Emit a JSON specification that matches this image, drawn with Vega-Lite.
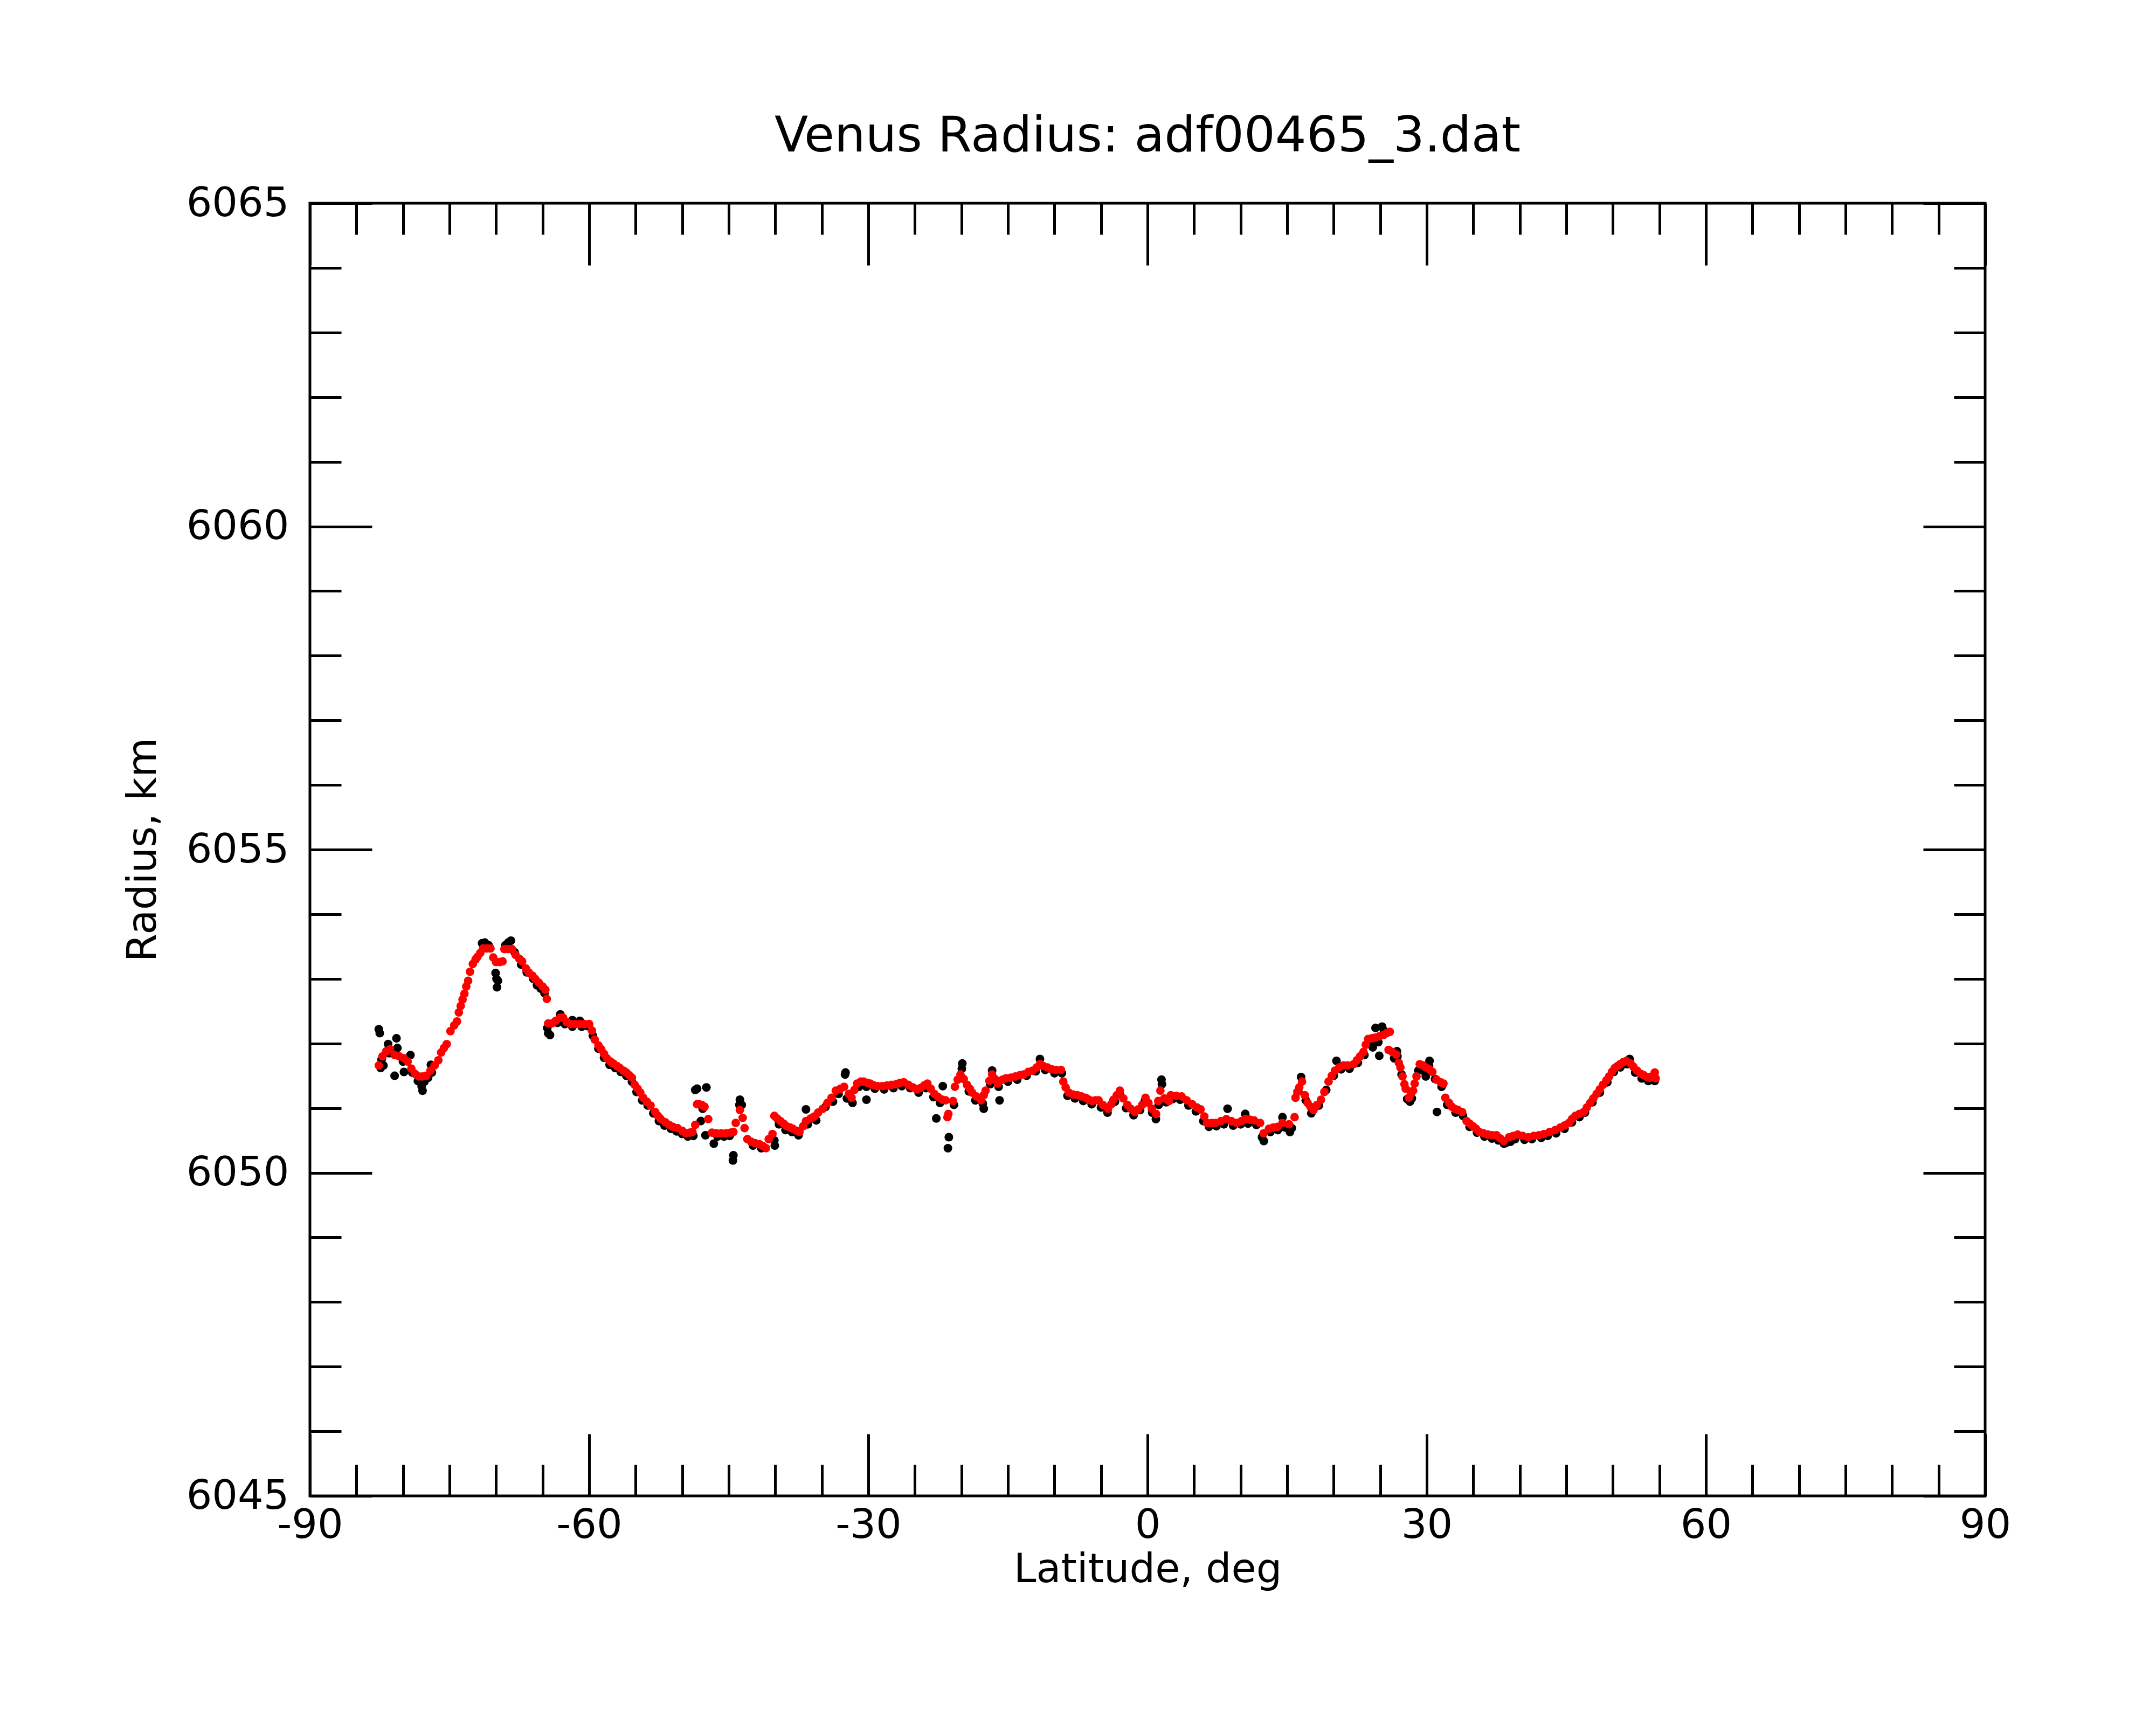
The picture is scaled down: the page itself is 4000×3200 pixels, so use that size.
{
  "$schema": "https://vega.github.io/schema/vega-lite/v6.json",
  "width": 3108,
  "height": 2398,
  "autosize": "none",
  "padding": {"left": 575, "top": 377, "right": 317, "bottom": 425},
  "background": "white",
  "title": {
    "text": "Venus Radius: adf00465_3.dat",
    "font": "DejaVu Sans",
    "fontSize": 91,
    "fontWeight": "normal",
    "color": "black",
    "anchor": "middle",
    "frame": "group",
    "baseline": "alphabetic",
    "offset": 96,
    "dy": 128
  },
  "config": {
    "font": "DejaVu Sans",
    "view": {"stroke": "black", "strokeWidth": 5},
    "axis": {
      "grid": false,
      "domain": false,
      "tickColor": "black",
      "tickWidth": 5,
      "labelColor": "black",
      "labelFont": "DejaVu Sans",
      "labelFontSize": 75,
      "labelLimit": 600,
      "titleFont": "DejaVu Sans",
      "titleFontSize": 75,
      "titleFontWeight": "normal",
      "titleColor": "black",
      "labelFlush": false,
      "labelOverlap": false
    }
  },
  "datasets": {
    "red": [
      {"lat": -82.6, "r": 6051.66}, {"lat": -82.2, "r": 6051.80}, {"lat": -81.8, "r": 6051.88}, {"lat": -81.4, "r": 6051.91},
      {"lat": -80.9, "r": 6051.82}, {"lat": -80.4, "r": 6051.80}, {"lat": -79.9, "r": 6051.77}, {"lat": -79.5, "r": 6051.72},
      {"lat": -79.1, "r": 6051.61}, {"lat": -78.7, "r": 6051.53}, {"lat": -78.3, "r": 6051.49}, {"lat": -77.9, "r": 6051.49},
      {"lat": -77.5, "r": 6051.50}, {"lat": -77.05, "r": 6051.58}, {"lat": -76.6, "r": 6051.66}, {"lat": -76.2, "r": 6051.74},
      {"lat": -75.9, "r": 6051.86}, {"lat": -75.6, "r": 6051.93}, {"lat": -75.3, "r": 6051.99}, {"lat": -74.9, "r": 6052.19},
      {"lat": -74.5, "r": 6052.28}, {"lat": -74.2, "r": 6052.34}, {"lat": -74.0, "r": 6052.48}, {"lat": -73.8, "r": 6052.58},
      {"lat": -73.6, "r": 6052.68}, {"lat": -73.4, "r": 6052.77}, {"lat": -73.2, "r": 6052.88}, {"lat": -73.0, "r": 6052.97},
      {"lat": -72.8, "r": 6053.11}, {"lat": -72.5, "r": 6053.23}, {"lat": -72.2, "r": 6053.30}, {"lat": -72.0, "r": 6053.34},
      {"lat": -71.7, "r": 6053.40}, {"lat": -71.4, "r": 6053.47}, {"lat": -71.0, "r": 6053.47}, {"lat": -70.6, "r": 6053.47},
      {"lat": -70.3, "r": 6053.33}, {"lat": -70.0, "r": 6053.26}, {"lat": -69.6, "r": 6053.26}, {"lat": -69.3, "r": 6053.27},
      {"lat": -69.1, "r": 6053.46}, {"lat": -68.7, "r": 6053.46}, {"lat": -68.3, "r": 6053.46}, {"lat": -67.9, "r": 6053.37},
      {"lat": -67.5, "r": 6053.31}, {"lat": -67.2, "r": 6053.27}, {"lat": -66.8, "r": 6053.16}, {"lat": -66.5, "r": 6053.10},
      {"lat": -66.1, "r": 6053.05}, {"lat": -65.8, "r": 6053.00}, {"lat": -65.4, "r": 6052.94}, {"lat": -65.0, "r": 6052.88},
      {"lat": -64.7, "r": 6052.83}, {"lat": -64.55, "r": 6052.69},
      {"lat": -64.4, "r": 6052.31}, {"lat": -64.0, "r": 6052.31}, {"lat": -63.6, "r": 6052.35}, {"lat": -63.1, "r": 6052.40},
      {"lat": -62.8, "r": 6052.40}, {"lat": -62.4, "r": 6052.33}, {"lat": -62.0, "r": 6052.30}, {"lat": -61.5, "r": 6052.30},
      {"lat": -61.0, "r": 6052.30}, {"lat": -60.5, "r": 6052.30}, {"lat": -60.0, "r": 6052.30}, {"lat": -59.7, "r": 6052.20},
      {"lat": -59.4, "r": 6052.06}, {"lat": -59.0, "r": 6051.97}, {"lat": -58.7, "r": 6051.91}, {"lat": -58.4, "r": 6051.84},
      {"lat": -58.1, "r": 6051.77}, {"lat": -57.7, "r": 6051.72}, {"lat": -57.4, "r": 6051.69}, {"lat": -57.0, "r": 6051.65},
      {"lat": -56.7, "r": 6051.62}, {"lat": -56.3, "r": 6051.58}, {"lat": -56.0, "r": 6051.55}, {"lat": -55.7, "r": 6051.51},
      {"lat": -55.4, "r": 6051.47}, {"lat": -55.1, "r": 6051.36}, {"lat": -54.8, "r": 6051.30}, {"lat": -54.5, "r": 6051.24},
      {"lat": -54.2, "r": 6051.16}, {"lat": -53.8, "r": 6051.10}, {"lat": -53.4, "r": 6051.04}, {"lat": -52.9, "r": 6050.94},
      {"lat": -52.6, "r": 6050.88}, {"lat": -52.3, "r": 6050.83}, {"lat": -51.8, "r": 6050.78}, {"lat": -51.4, "r": 6050.74},
      {"lat": -51.0, "r": 6050.71}, {"lat": -50.5, "r": 6050.69}, {"lat": -50.0, "r": 6050.65}, {"lat": -49.6, "r": 6050.61},
      {"lat": -49.2, "r": 6050.62}, {"lat": -48.9, "r": 6050.63}, {"lat": -48.6, "r": 6050.74}, {"lat": -48.4, "r": 6051.06},
      {"lat": -48.2, "r": 6051.06}, {"lat": -47.9, "r": 6051.05}, {"lat": -47.6, "r": 6051.02}, {"lat": -47.2, "r": 6050.83},
      {"lat": -46.8, "r": 6050.62}, {"lat": -46.3, "r": 6050.61}, {"lat": -45.8, "r": 6050.61}, {"lat": -45.3, "r": 6050.61},
      {"lat": -44.8, "r": 6050.62}, {"lat": -44.5, "r": 6050.63}, {"lat": -44.25, "r": 6050.77}, {"lat": -43.8, "r": 6050.97},
      {"lat": -43.5, "r": 6050.85}, {"lat": -43.3, "r": 6050.69}, {"lat": -43.0, "r": 6050.52}, {"lat": -42.6, "r": 6050.48},
      {"lat": -42.2, "r": 6050.46}, {"lat": -41.7, "r": 6050.44}, {"lat": -41.3, "r": 6050.41}, {"lat": -41.0, "r": 6050.38},
      {"lat": -40.7, "r": 6050.52}, {"lat": -40.3, "r": 6050.60}, {"lat": -40.1, "r": 6050.88}, {"lat": -39.8, "r": 6050.84},
      {"lat": -39.45, "r": 6050.80}, {"lat": -39.1, "r": 6050.76}, {"lat": -38.8, "r": 6050.72}, {"lat": -38.4, "r": 6050.70},
      {"lat": -38.1, "r": 6050.68}, {"lat": -37.7, "r": 6050.65}, {"lat": -37.4, "r": 6050.63}, {"lat": -37.0, "r": 6050.72},
      {"lat": -36.7, "r": 6050.80}, {"lat": -36.2, "r": 6050.84}, {"lat": -35.8, "r": 6050.87}, {"lat": -35.4, "r": 6050.93},
      {"lat": -34.9, "r": 6050.99}, {"lat": -34.4, "r": 6051.08}, {"lat": -33.95, "r": 6051.16}, {"lat": -33.5, "r": 6051.27},
      {"lat": -33.0, "r": 6051.30}, {"lat": -32.6, "r": 6051.33}, {"lat": -32.1, "r": 6051.22}, {"lat": -31.8, "r": 6051.16},
      {"lat": -31.5, "r": 6051.28}, {"lat": -31.2, "r": 6051.38}, {"lat": -30.8, "r": 6051.41}, {"lat": -30.5, "r": 6051.41},
      {"lat": -30.1, "r": 6051.39}, {"lat": -29.8, "r": 6051.38}, {"lat": -29.4, "r": 6051.35}, {"lat": -29.0, "r": 6051.34},
      {"lat": -28.5, "r": 6051.34}, {"lat": -28.0, "r": 6051.35}, {"lat": -27.5, "r": 6051.36}, {"lat": -27.0, "r": 6051.37},
      {"lat": -26.6, "r": 6051.39}, {"lat": -26.2, "r": 6051.40}, {"lat": -25.7, "r": 6051.36}, {"lat": -25.2, "r": 6051.32},
      {"lat": -24.8, "r": 6051.29}, {"lat": -24.4, "r": 6051.31}, {"lat": -24.0, "r": 6051.35}, {"lat": -23.65, "r": 6051.38},
      {"lat": -23.3, "r": 6051.30}, {"lat": -22.9, "r": 6051.22}, {"lat": -22.5, "r": 6051.17}, {"lat": -22.05, "r": 6051.13},
      {"lat": -21.7, "r": 6051.12}, {"lat": -21.5, "r": 6050.86}, {"lat": -21.4, "r": 6050.91}, {"lat": -20.9, "r": 6051.11},
      {"lat": -20.7, "r": 6051.33}, {"lat": -20.4, "r": 6051.44}, {"lat": -20.1, "r": 6051.52}, {"lat": -19.75, "r": 6051.45},
      {"lat": -19.4, "r": 6051.36}, {"lat": -19.1, "r": 6051.30}, {"lat": -18.85, "r": 6051.24}, {"lat": -18.4, "r": 6051.18},
      {"lat": -17.9, "r": 6051.12}, {"lat": -17.6, "r": 6051.20}, {"lat": -17.4, "r": 6051.27}, {"lat": -17.0, "r": 6051.42},
      {"lat": -16.7, "r": 6051.52}, {"lat": -16.4, "r": 6051.45}, {"lat": -16.1, "r": 6051.38}, {"lat": -15.6, "r": 6051.44},
      {"lat": -15.2, "r": 6051.46}, {"lat": -14.7, "r": 6051.47}, {"lat": -14.2, "r": 6051.49}, {"lat": -13.7, "r": 6051.51},
      {"lat": -13.3, "r": 6051.52}, {"lat": -12.8, "r": 6051.56}, {"lat": -12.35, "r": 6051.58}, {"lat": -11.9, "r": 6051.63},
      {"lat": -11.56, "r": 6051.68}, {"lat": -11.2, "r": 6051.65}, {"lat": -10.76, "r": 6051.63}, {"lat": -10.3, "r": 6051.60},
      {"lat": -9.85, "r": 6051.59}, {"lat": -9.3, "r": 6051.59}, {"lat": -9.05, "r": 6051.41}, {"lat": -8.8, "r": 6051.32},
      {"lat": -8.47, "r": 6051.24}, {"lat": -8.0, "r": 6051.21}, {"lat": -7.55, "r": 6051.20}, {"lat": -7.1, "r": 6051.18},
      {"lat": -6.64, "r": 6051.16}, {"lat": -6.3, "r": 6051.13}, {"lat": -5.95, "r": 6051.11}, {"lat": -5.6, "r": 6051.12},
      {"lat": -5.26, "r": 6051.12}, {"lat": -4.8, "r": 6051.05}, {"lat": -4.24, "r": 6050.99}, {"lat": -3.9, "r": 6051.06},
      {"lat": -3.66, "r": 6051.13}, {"lat": -3.3, "r": 6051.20}, {"lat": -2.97, "r": 6051.27}, {"lat": -2.6, "r": 6051.15},
      {"lat": -2.17, "r": 6051.05}, {"lat": -1.8, "r": 6050.99}, {"lat": -1.37, "r": 6050.94}, {"lat": -1.0, "r": 6050.98},
      {"lat": -0.57, "r": 6051.05}, {"lat": -0.22, "r": 6051.16}, {"lat": 0.1, "r": 6051.08}, {"lat": 0.46, "r": 6050.99},
      {"lat": 0.92, "r": 6050.91}, {"lat": 1.15, "r": 6051.11}, {"lat": 1.38, "r": 6051.27}, {"lat": 1.8, "r": 6051.15},
      {"lat": 2.3, "r": 6051.11}, {"lat": 2.5, "r": 6051.20}, {"lat": 3.1, "r": 6051.19}, {"lat": 3.66, "r": 6051.18},
      {"lat": 4.2, "r": 6051.12}, {"lat": 4.8, "r": 6051.06}, {"lat": 5.3, "r": 6051.01}, {"lat": 5.7, "r": 6050.98},
      {"lat": 6.1, "r": 6050.87}, {"lat": 6.4, "r": 6050.77}, {"lat": 6.9, "r": 6050.77}, {"lat": 7.3, "r": 6050.77},
      {"lat": 7.9, "r": 6050.80}, {"lat": 8.47, "r": 6050.83}, {"lat": 9.0, "r": 6050.80}, {"lat": 9.6, "r": 6050.77},
      {"lat": 10.1, "r": 6050.80}, {"lat": 10.52, "r": 6050.83}, {"lat": 11.0, "r": 6050.82}, {"lat": 11.44, "r": 6050.81},
      {"lat": 12.1, "r": 6050.77}, {"lat": 12.47, "r": 6050.61}, {"lat": 13.04, "r": 6050.68}, {"lat": 13.5, "r": 6050.70},
      {"lat": 13.96, "r": 6050.71}, {"lat": 14.5, "r": 6050.77}, {"lat": 15.2, "r": 6050.75}, {"lat": 15.8, "r": 6050.86},
      {"lat": 15.9, "r": 6051.16}, {"lat": 16.1, "r": 6051.25}, {"lat": 16.3, "r": 6051.32}, {"lat": 16.6, "r": 6051.41},
      {"lat": 16.9, "r": 6051.20}, {"lat": 17.2, "r": 6051.08}, {"lat": 17.5, "r": 6051.02}, {"lat": 17.84, "r": 6050.97},
      {"lat": 18.2, "r": 6051.05}, {"lat": 18.64, "r": 6051.13}, {"lat": 19.0, "r": 6051.25}, {"lat": 19.45, "r": 6051.41},
      {"lat": 19.8, "r": 6051.50}, {"lat": 20.14, "r": 6051.58}, {"lat": 20.6, "r": 6051.63}, {"lat": 21.05, "r": 6051.66},
      {"lat": 21.5, "r": 6051.66}, {"lat": 22.15, "r": 6051.68}, {"lat": 22.5, "r": 6051.74}, {"lat": 22.84, "r": 6051.80},
      {"lat": 23.2, "r": 6051.87}, {"lat": 23.45, "r": 6051.98}, {"lat": 23.7, "r": 6052.07}, {"lat": 24.1, "r": 6052.08},
      {"lat": 24.44, "r": 6052.09}, {"lat": 24.9, "r": 6052.11}, {"lat": 25.35, "r": 6052.13}, {"lat": 25.7, "r": 6052.16},
      {"lat": 26.04, "r": 6052.18}, {"lat": 25.9, "r": 6051.90}, {"lat": 26.3, "r": 6051.87}, {"lat": 26.72, "r": 6051.83},
      {"lat": 27.0, "r": 6051.70}, {"lat": 27.17, "r": 6051.63}, {"lat": 27.4, "r": 6051.49}, {"lat": 27.6, "r": 6051.37},
      {"lat": 27.74, "r": 6051.30}, {"lat": 28.08, "r": 6051.16}, {"lat": 28.3, "r": 6051.22}, {"lat": 28.54, "r": 6051.27},
      {"lat": 28.7, "r": 6051.38}, {"lat": 28.9, "r": 6051.49}, {"lat": 29.25, "r": 6051.68}, {"lat": 29.6, "r": 6051.66},
      {"lat": 29.9, "r": 6051.63}, {"lat": 30.3, "r": 6051.60}, {"lat": 30.6, "r": 6051.56}, {"lat": 31.05, "r": 6051.44},
      {"lat": 31.5, "r": 6051.40}, {"lat": 31.8, "r": 6051.38}, {"lat": 32.0, "r": 6051.16}, {"lat": 32.4, "r": 6051.08},
      {"lat": 32.7, "r": 6051.02}, {"lat": 33.0, "r": 6050.99}, {"lat": 33.36, "r": 6050.97}, {"lat": 33.8, "r": 6050.94},
      {"lat": 34.28, "r": 6050.80}, {"lat": 34.6, "r": 6050.76}, {"lat": 34.96, "r": 6050.72}, {"lat": 35.3, "r": 6050.68},
      {"lat": 35.65, "r": 6050.63}, {"lat": 36.1, "r": 6050.61}, {"lat": 36.57, "r": 6050.59}, {"lat": 37.0, "r": 6050.58},
      {"lat": 37.48, "r": 6050.58}, {"lat": 37.9, "r": 6050.53}, {"lat": 38.28, "r": 6050.49}, {"lat": 38.85, "r": 6050.55},
      {"lat": 39.3, "r": 6050.57}, {"lat": 39.77, "r": 6050.59}, {"lat": 40.3, "r": 6050.57}, {"lat": 40.92, "r": 6050.55},
      {"lat": 41.5, "r": 6050.57}, {"lat": 42.06, "r": 6050.58}, {"lat": 42.6, "r": 6050.60}, {"lat": 43.2, "r": 6050.63},
      {"lat": 43.8, "r": 6050.66}, {"lat": 44.36, "r": 6050.70}, {"lat": 44.8, "r": 6050.73}, {"lat": 45.27, "r": 6050.77},
      {"lat": 45.6, "r": 6050.83}, {"lat": 45.96, "r": 6050.88}, {"lat": 46.4, "r": 6050.91}, {"lat": 46.87, "r": 6050.94},
      {"lat": 47.2, "r": 6051.01}, {"lat": 47.56, "r": 6051.08}, {"lat": 47.9, "r": 6051.15}, {"lat": 48.25, "r": 6051.22},
      {"lat": 48.6, "r": 6051.29}, {"lat": 48.93, "r": 6051.36}, {"lat": 49.3, "r": 6051.43}, {"lat": 49.6, "r": 6051.49},
      {"lat": 49.9, "r": 6051.56}, {"lat": 50.2, "r": 6051.62}, {"lat": 50.5, "r": 6051.65}, {"lat": 50.78, "r": 6051.68},
      {"lat": 51.1, "r": 6051.71}, {"lat": 51.45, "r": 6051.73}, {"lat": 51.9, "r": 6051.69}, {"lat": 52.2, "r": 6051.64},
      {"lat": 52.6, "r": 6051.58}, {"lat": 53.0, "r": 6051.53}, {"lat": 53.3, "r": 6051.51}, {"lat": 53.7, "r": 6051.48},
      {"lat": 53.96, "r": 6051.47}, {"lat": 54.3, "r": 6051.50}, {"lat": 54.5, "r": 6051.55}, {"lat": 54.6, "r": 6051.46}
    ],
    "black": [
      {"lat": -82.6, "r": 6052.22}, {"lat": -82.5, "r": 6052.16}, {"lat": -82.4, "r": 6051.62}, {"lat": -82.1, "r": 6051.66},
      {"lat": -81.6, "r": 6051.99}, {"lat": -80.7, "r": 6052.08}, {"lat": -80.6, "r": 6051.93}, {"lat": -80.9, "r": 6051.50},
      {"lat": -79.9, "r": 6051.56}, {"lat": -79.2, "r": 6051.82}, {"lat": -78.1, "r": 6051.41}, {"lat": -78.0, "r": 6051.34},
      {"lat": -77.9, "r": 6051.27}, {"lat": -77.7, "r": 6051.41}, {"lat": -76.9, "r": 6051.55}, {"lat": -77.0, "r": 6051.67},
      {"lat": -82.3, "r": 6051.75}, {"lat": -81.5, "r": 6051.85}, {"lat": -80.0, "r": 6051.72}, {"lat": -79.0, "r": 6051.55},
      {"lat": -78.4, "r": 6051.42}, {"lat": -77.3, "r": 6051.47},
      {"lat": -71.5, "r": 6053.55}, {"lat": -71.2, "r": 6053.56}, {"lat": -70.8, "r": 6053.52}, {"lat": -70.05, "r": 6053.09},
      {"lat": -69.95, "r": 6053.00}, {"lat": -69.8, "r": 6052.97}, {"lat": -69.9, "r": 6052.87}, {"lat": -68.7, "r": 6053.56},
      {"lat": -68.4, "r": 6053.59}, {"lat": -69.0, "r": 6053.52}, {"lat": -68.0, "r": 6053.41}, {"lat": -67.3, "r": 6053.22},
      {"lat": -66.7, "r": 6053.10}, {"lat": -66.0, "r": 6053.00}, {"lat": -65.6, "r": 6052.90}, {"lat": -65.2, "r": 6052.85},
      {"lat": -64.8, "r": 6052.78}, {"lat": -64.5, "r": 6052.24}, {"lat": -64.4, "r": 6052.16}, {"lat": -64.2, "r": 6052.13},
      {"lat": -63.1, "r": 6052.45}, {"lat": -61.8, "r": 6052.36}, {"lat": -61.0, "r": 6052.35}, {"lat": -63.4, "r": 6052.32},
      {"lat": -62.6, "r": 6052.30}, {"lat": -61.8, "r": 6052.26}, {"lat": -60.8, "r": 6052.26}, {"lat": -60.2, "r": 6052.27},
      {"lat": -59.6, "r": 6052.12}, {"lat": -59.0, "r": 6051.92}, {"lat": -58.4, "r": 6051.78}, {"lat": -57.8, "r": 6051.67},
      {"lat": -57.2, "r": 6051.62}, {"lat": -56.6, "r": 6051.56}, {"lat": -56.0, "r": 6051.50}, {"lat": -55.4, "r": 6051.41},
      {"lat": -54.9, "r": 6051.25}, {"lat": -54.3, "r": 6051.12}, {"lat": -53.7, "r": 6051.04}, {"lat": -53.1, "r": 6050.92},
      {"lat": -52.5, "r": 6050.80}, {"lat": -51.9, "r": 6050.73}, {"lat": -51.2, "r": 6050.68}, {"lat": -50.6, "r": 6050.64},
      {"lat": -50.0, "r": 6050.60}, {"lat": -49.4, "r": 6050.56}, {"lat": -48.8, "r": 6050.57}, {"lat": -48.6, "r": 6051.28},
      {"lat": -48.4, "r": 6051.30}, {"lat": -47.4, "r": 6051.32}, {"lat": -48.0, "r": 6050.80}, {"lat": -47.8, "r": 6050.99},
      {"lat": -47.5, "r": 6050.58}, {"lat": -46.6, "r": 6050.45}, {"lat": -46.2, "r": 6050.56}, {"lat": -45.5, "r": 6050.56},
      {"lat": -44.9, "r": 6050.57}, {"lat": -44.5, "r": 6050.27}, {"lat": -44.55, "r": 6050.19}, {"lat": -43.8, "r": 6051.13},
      {"lat": -43.85, "r": 6051.05}, {"lat": -43.6, "r": 6051.05}, {"lat": -42.4, "r": 6050.42}, {"lat": -41.5, "r": 6050.38},
      {"lat": -40.1, "r": 6050.50}, {"lat": -40.05, "r": 6050.42}, {"lat": -39.6, "r": 6050.75}, {"lat": -38.9, "r": 6050.66},
      {"lat": -38.2, "r": 6050.63}, {"lat": -37.5, "r": 6050.58}, {"lat": -36.7, "r": 6050.98}, {"lat": -36.5, "r": 6050.75},
      {"lat": -35.6, "r": 6050.81}, {"lat": -34.6, "r": 6051.02}, {"lat": -33.8, "r": 6051.10}, {"lat": -33.2, "r": 6051.22},
      {"lat": -32.5, "r": 6051.52}, {"lat": -32.45, "r": 6051.55}, {"lat": -32.3, "r": 6051.15}, {"lat": -31.7, "r": 6051.08},
      {"lat": -30.2, "r": 6051.13}, {"lat": -31.0, "r": 6051.33}, {"lat": -30.2, "r": 6051.33}, {"lat": -29.3, "r": 6051.30},
      {"lat": -28.3, "r": 6051.29}, {"lat": -27.3, "r": 6051.31}, {"lat": -26.4, "r": 6051.34}, {"lat": -25.5, "r": 6051.31},
      {"lat": -24.6, "r": 6051.24}, {"lat": -23.8, "r": 6051.31}, {"lat": -23.0, "r": 6051.17}, {"lat": -22.7, "r": 6050.84},
      {"lat": -22.0, "r": 6051.34}, {"lat": -22.3, "r": 6051.08}, {"lat": -21.35, "r": 6050.55}, {"lat": -21.45, "r": 6050.38},
      {"lat": -20.8, "r": 6051.05}, {"lat": -19.9, "r": 6051.69}, {"lat": -19.95, "r": 6051.61}, {"lat": -20.0, "r": 6051.47},
      {"lat": -19.2, "r": 6051.26}, {"lat": -18.5, "r": 6051.12}, {"lat": -17.6, "r": 6050.99}, {"lat": -17.7, "r": 6051.07},
      {"lat": -16.9, "r": 6051.37}, {"lat": -16.7, "r": 6051.58}, {"lat": -15.9, "r": 6051.12}, {"lat": -16.0, "r": 6051.33},
      {"lat": -15.0, "r": 6051.41}, {"lat": -14.0, "r": 6051.44}, {"lat": -13.0, "r": 6051.50}, {"lat": -12.0, "r": 6051.57},
      {"lat": -11.56, "r": 6051.76}, {"lat": -11.0, "r": 6051.59}, {"lat": -10.0, "r": 6051.54}, {"lat": -9.2, "r": 6051.54},
      {"lat": -8.6, "r": 6051.19}, {"lat": -7.8, "r": 6051.15}, {"lat": -6.9, "r": 6051.11}, {"lat": -6.0, "r": 6051.06},
      {"lat": -5.0, "r": 6051.01}, {"lat": -4.3, "r": 6050.93}, {"lat": -3.5, "r": 6051.10}, {"lat": -3.0, "r": 6051.22},
      {"lat": -2.3, "r": 6051.00}, {"lat": -1.5, "r": 6050.89}, {"lat": -0.8, "r": 6050.97}, {"lat": -0.3, "r": 6051.11},
      {"lat": 0.5, "r": 6050.93}, {"lat": 0.9, "r": 6050.83}, {"lat": 1.5, "r": 6051.44}, {"lat": 1.55, "r": 6051.37},
      {"lat": 1.2, "r": 6051.05}, {"lat": 2.0, "r": 6051.09}, {"lat": 2.7, "r": 6051.14}, {"lat": 3.5, "r": 6051.13},
      {"lat": 4.4, "r": 6051.04}, {"lat": 5.2, "r": 6050.95}, {"lat": 6.0, "r": 6050.80}, {"lat": 6.6, "r": 6050.71},
      {"lat": 7.4, "r": 6050.72}, {"lat": 8.2, "r": 6050.75}, {"lat": 8.6, "r": 6050.99}, {"lat": 9.2, "r": 6050.73},
      {"lat": 10.0, "r": 6050.75}, {"lat": 10.5, "r": 6050.91}, {"lat": 10.8, "r": 6050.76}, {"lat": 11.7, "r": 6050.74},
      {"lat": 12.3, "r": 6050.55}, {"lat": 12.5, "r": 6050.49}, {"lat": 13.2, "r": 6050.63}, {"lat": 14.0, "r": 6050.66},
      {"lat": 14.5, "r": 6050.86}, {"lat": 14.8, "r": 6050.70}, {"lat": 15.3, "r": 6050.63}, {"lat": 15.5, "r": 6050.69},
      {"lat": 16.2, "r": 6051.26}, {"lat": 16.5, "r": 6051.48}, {"lat": 17.0, "r": 6051.12}, {"lat": 17.6, "r": 6050.92},
      {"lat": 18.4, "r": 6051.04}, {"lat": 19.2, "r": 6051.28}, {"lat": 20.0, "r": 6051.50}, {"lat": 20.3, "r": 6051.73},
      {"lat": 20.8, "r": 6051.60}, {"lat": 21.7, "r": 6051.61}, {"lat": 22.6, "r": 6051.70}, {"lat": 23.3, "r": 6051.82},
      {"lat": 24.0, "r": 6052.02}, {"lat": 24.5, "r": 6052.24}, {"lat": 25.2, "r": 6052.26}, {"lat": 25.4, "r": 6052.20},
      {"lat": 24.2, "r": 6051.94}, {"lat": 24.9, "r": 6051.81}, {"lat": 24.8, "r": 6052.02}, {"lat": 26.8, "r": 6051.88},
      {"lat": 26.85, "r": 6051.80}, {"lat": 26.5, "r": 6051.77}, {"lat": 27.3, "r": 6051.52}, {"lat": 27.9, "r": 6051.14},
      {"lat": 28.2, "r": 6051.10}, {"lat": 28.4, "r": 6051.15}, {"lat": 29.1, "r": 6051.58}, {"lat": 29.8, "r": 6051.58},
      {"lat": 29.9, "r": 6051.49}, {"lat": 29.85, "r": 6051.55}, {"lat": 30.3, "r": 6051.73}, {"lat": 30.25, "r": 6051.65},
      {"lat": 30.9, "r": 6051.45}, {"lat": 31.1, "r": 6050.94}, {"lat": 31.6, "r": 6051.33}, {"lat": 32.2, "r": 6051.05},
      {"lat": 33.1, "r": 6050.93}, {"lat": 33.9, "r": 6050.88}, {"lat": 34.6, "r": 6050.71}, {"lat": 35.4, "r": 6050.62},
      {"lat": 36.2, "r": 6050.56}, {"lat": 37.0, "r": 6050.53}, {"lat": 37.7, "r": 6050.50}, {"lat": 38.3, "r": 6050.45},
      {"lat": 38.5, "r": 6050.46}, {"lat": 39.0, "r": 6050.48}, {"lat": 39.5, "r": 6050.52}, {"lat": 40.5, "r": 6050.51},
      {"lat": 41.3, "r": 6050.52}, {"lat": 42.3, "r": 6050.54}, {"lat": 43.0, "r": 6050.57}, {"lat": 43.9, "r": 6050.61},
      {"lat": 44.8, "r": 6050.68}, {"lat": 45.6, "r": 6050.78}, {"lat": 46.4, "r": 6050.86}, {"lat": 47.0, "r": 6050.93},
      {"lat": 47.8, "r": 6051.09}, {"lat": 48.6, "r": 6051.24}, {"lat": 49.4, "r": 6051.40}, {"lat": 50.1, "r": 6051.56},
      {"lat": 50.8, "r": 6051.63}, {"lat": 51.5, "r": 6051.68}, {"lat": 51.8, "r": 6051.76}, {"lat": 52.4, "r": 6051.55},
      {"lat": 53.1, "r": 6051.46}, {"lat": 53.8, "r": 6051.42}, {"lat": 54.4, "r": 6051.44}, {"lat": 54.5, "r": 6051.42}
    ]
  },
  "resolve": {"axis": {"x": "independent", "y": "independent"}},
  "layer": [
    {
      "data": {"name": "black"},
      "mark": {"type": "point", "shape": "circle", "filled": true, "size": 260, "color": "black", "opacity": 1, "strokeWidth": 0},
      "encoding": {
        "x": {
          "field": "lat", "type": "quantitative",
          "scale": {"domain": [-90, 90], "nice": false, "zero": false},
          "axis": {
            "orient": "bottom", "values": [-90, -60, -30, 0, 30, 60, 90], "labelExpr": "'' + datum.value",
            "tickSize": -115, "labelPadding": 133, "labelBaseline": "top",
            "title": "Latitude, deg", "titleY": 136, "titleBaseline": "middle"
          }
        },
        "y": {
          "field": "r", "type": "quantitative",
          "scale": {"domain": [6045, 6065], "nice": false, "zero": false},
          "axis": {
            "orient": "left", "values": [6045, 6050, 6055, 6060, 6065], "labelExpr": "'' + datum.value",
            "tickSize": -115, "labelPadding": 154, "labelBaseline": "middle", "labelAlign": "right",
            "title": "Radius, km", "titleX": -310, "titleY": 1199, "titleAngle": -90,
            "titleBaseline": "middle", "titleAlign": "center"
          }
        }
      }
    },
    {
      "data": {"name": "red"},
      "mark": {"type": "point", "shape": "circle", "filled": true, "size": 250, "color": "#ff0000", "opacity": 1, "strokeWidth": 0},
      "encoding": {
        "x": {
          "field": "lat", "type": "quantitative",
          "axis": {
            "orient": "bottom", "labels": false, "title": null, "tickSize": -58,
            "values": [-85, -80, -75, -70, -65, -55, -50, -45, -40, -35, -25, -20, -15, -10, -5, 5, 10, 15, 20, 25, 35, 40, 45, 50, 55, 65, 70, 75, 80, 85]
          }
        },
        "y": {
          "field": "r", "type": "quantitative",
          "axis": {
            "orient": "left", "labels": false, "title": null, "tickSize": -58,
            "values": [6046, 6047, 6048, 6049, 6051, 6052, 6053, 6054, 6056, 6057, 6058, 6059, 6061, 6062, 6063, 6064]
          }
        }
      }
    },
    {
      "data": {"name": "red"},
      "mark": {"type": "point", "opacity": 0},
      "encoding": {
        "x": {
          "field": "lat", "type": "quantitative",
          "axis": {"orient": "top", "labels": false, "title": null, "tickSize": -115, "values": [-90, -60, -30, 0, 30, 60, 90]}
        },
        "y": {
          "field": "r", "type": "quantitative",
          "axis": {"orient": "right", "labels": false, "title": null, "tickSize": -115, "values": [6045, 6050, 6055, 6060, 6065]}
        }
      }
    },
    {
      "data": {"name": "red"},
      "mark": {"type": "point", "opacity": 0},
      "encoding": {
        "x": {
          "field": "lat", "type": "quantitative",
          "axis": {
            "orient": "top", "labels": false, "title": null, "tickSize": -58,
            "values": [-85, -80, -75, -70, -65, -55, -50, -45, -40, -35, -25, -20, -15, -10, -5, 5, 10, 15, 20, 25, 35, 40, 45, 50, 55, 65, 70, 75, 80, 85]
          }
        },
        "y": {
          "field": "r", "type": "quantitative",
          "axis": {
            "orient": "right", "labels": false, "title": null, "tickSize": -58,
            "values": [6046, 6047, 6048, 6049, 6051, 6052, 6053, 6054, 6056, 6057, 6058, 6059, 6061, 6062, 6063, 6064]
          }
        }
      }
    }
  ]
}
